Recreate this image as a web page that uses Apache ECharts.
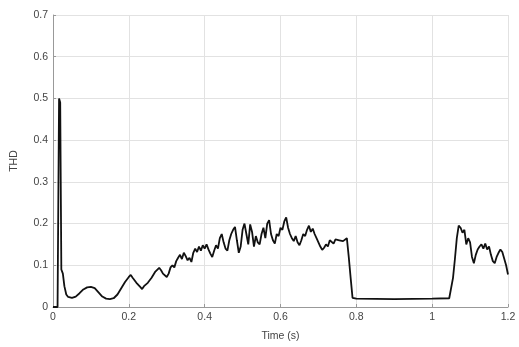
<!DOCTYPE html>
<html>
<head>
<meta charset="utf-8">
<script src="https://cdn.jsdelivr.net/npm/echarts@6/dist/echarts.min.js"></script>
<style>
  html, body { margin: 0; padding: 0; background: #fff; }
  #chart { width: 519px; height: 347px; }
</style>
</head>
<body>
<div id="chart"></div>
<script>
// time (s) and THD
const timeValues = [
    0, 0.012, 0.016, 0.019, 0.022, 0.026, 0.03, 0.035, 0.04, 0.05,
    0.06, 0.07, 0.08, 0.09, 0.1, 0.11, 0.12, 0.13, 0.14, 0.15,
    0.16, 0.17, 0.18, 0.19, 0.2, 0.205, 0.21, 0.22, 0.23, 0.235,
    0.24, 0.25, 0.26, 0.27, 0.28, 0.285, 0.29, 0.295, 0.3, 0.305,
    0.31, 0.315, 0.32, 0.325, 0.33, 0.335, 0.34, 0.345, 0.35, 0.355,
    0.36, 0.365, 0.37, 0.375, 0.38, 0.385, 0.39, 0.395, 0.4, 0.405,
    0.41, 0.415, 0.42, 0.425, 0.43, 0.435, 0.44, 0.445, 0.45, 0.455,
    0.46, 0.465, 0.47, 0.475, 0.48, 0.485, 0.49, 0.495, 0.5, 0.505,
    0.51, 0.515, 0.52, 0.525, 0.53, 0.535, 0.54, 0.545, 0.55, 0.555,
    0.56, 0.565, 0.57, 0.575, 0.58, 0.585, 0.59, 0.595, 0.6, 0.605,
    0.61, 0.615, 0.62, 0.625, 0.63, 0.635, 0.64, 0.645, 0.65, 0.655,
    0.66, 0.665, 0.67, 0.675, 0.68, 0.685, 0.69, 0.695, 0.7, 0.705,
    0.71, 0.715, 0.72, 0.725, 0.73, 0.735, 0.74, 0.745, 0.75, 0.755,
    0.76, 0.765, 0.77, 0.775, 0.78, 0.785, 0.79, 0.8, 0.9, 1.0,
    1.045, 1.05, 1.055, 1.06, 1.065, 1.07, 1.075, 1.08, 1.085, 1.09,
    1.095, 1.1, 1.105, 1.11, 1.115, 1.12, 1.125, 1.13, 1.135, 1.14,
    1.145, 1.15, 1.155, 1.16, 1.165, 1.17, 1.175, 1.18, 1.185, 1.19,
    1.195, 1.2
];
const thdValues = [
    0, 0, 0.5, 0.49, 0.09, 0.08, 0.05, 0.03, 0.024, 0.022,
    0.025, 0.033, 0.042, 0.047, 0.048, 0.045, 0.035, 0.025, 0.02, 0.019,
    0.021, 0.03, 0.045, 0.06, 0.072, 0.077, 0.07, 0.058, 0.048, 0.043,
    0.05, 0.058, 0.07, 0.085, 0.094, 0.088, 0.08, 0.076, 0.072, 0.08,
    0.095, 0.1, 0.095, 0.11, 0.118, 0.125, 0.115, 0.13, 0.122, 0.112,
    0.118, 0.108, 0.13, 0.14, 0.132, 0.145, 0.135, 0.148, 0.14, 0.15,
    0.138, 0.128, 0.12, 0.135, 0.148, 0.14, 0.165, 0.175, 0.155, 0.14,
    0.135, 0.16, 0.175, 0.185, 0.192, 0.16, 0.13, 0.145, 0.185, 0.2,
    0.175, 0.15, 0.198, 0.18, 0.145, 0.17, 0.155, 0.15, 0.175, 0.19,
    0.165, 0.2, 0.208, 0.175, 0.16, 0.152, 0.175, 0.17, 0.19, 0.185,
    0.205, 0.215, 0.19, 0.175, 0.165, 0.158, 0.17, 0.155, 0.148, 0.16,
    0.175, 0.17, 0.185, 0.195, 0.18, 0.188, 0.175, 0.165, 0.155, 0.145,
    0.137, 0.142, 0.15, 0.145, 0.16, 0.158, 0.152, 0.162, 0.158, 0.16,
    0.163, 0.158, 0.162, 0.165, 0.12, 0.07, 0.022, 0.02, 0.019, 0.02,
    0.021, 0.025, 0.07, 0.115, 0.165, 0.195, 0.19, 0.178, 0.185, 0.15,
    0.165, 0.155, 0.12, 0.105, 0.125, 0.138, 0.145, 0.15, 0.14, 0.152,
    0.138, 0.145, 0.125, 0.11, 0.105, 0.12, 0.13, 0.138, 0.132, 0.128,
    0.1, 0.078
];

const fmt = (v) => String(parseFloat(v.toFixed(1)));

const chartOpt = () => {
    const labelStyle = {
        color: '#444',
        fontFamily: 'Liberation Sans, Arial, sans-serif',
        fontSize: 10.5
    };
    return {
        animation: false,
        grid: { left: 53, right: 11, top: 15, bottom: 40 },
        xAxis: {
            type: 'value',
            min: 0,
            max: 1.2,
            interval: 0.2,
            name: 'Time (s)',
            nameLocation: 'middle',
            nameGap: 24,
            nameTextStyle: labelStyle,
            axisLine: { show: true, onZero: false, lineStyle: { color: '#999' } },
            axisTick: { show: true, inside: true, length: 3, lineStyle: { color: '#999' } },
            axisLabel: { ...labelStyle, margin: 5, formatter: fmt },
            splitLine: { show: true, lineStyle: { color: '#e2e2e2' } }
        },
        yAxis: {
            type: 'value',
            min: 0,
            max: 0.7,
            interval: 0.1,
            name: 'THD',
            nameLocation: 'middle',
            nameRotate: 90,
            nameGap: 33,
            nameTextStyle: labelStyle,
            axisLine: { show: true, lineStyle: { color: '#999' } },
            axisTick: { show: true, inside: true, length: 3, lineStyle: { color: '#999' } },
            axisLabel: { ...labelStyle, margin: 5, formatter: fmt },
            splitLine: { show: true, lineStyle: { color: '#e2e2e2' } }
        },
        series: [
            {
                type: 'line',
                data: timeValues.map((t, i) => [t, thdValues[i]]),
                showSymbol: false,
                lineStyle: { color: '#111', width: 1.8 }
            }
        ]
    };
};

const chart = echarts.init(document.getElementById('chart'));
chart.setOption(chartOpt());
</script>
</body>
</html>
